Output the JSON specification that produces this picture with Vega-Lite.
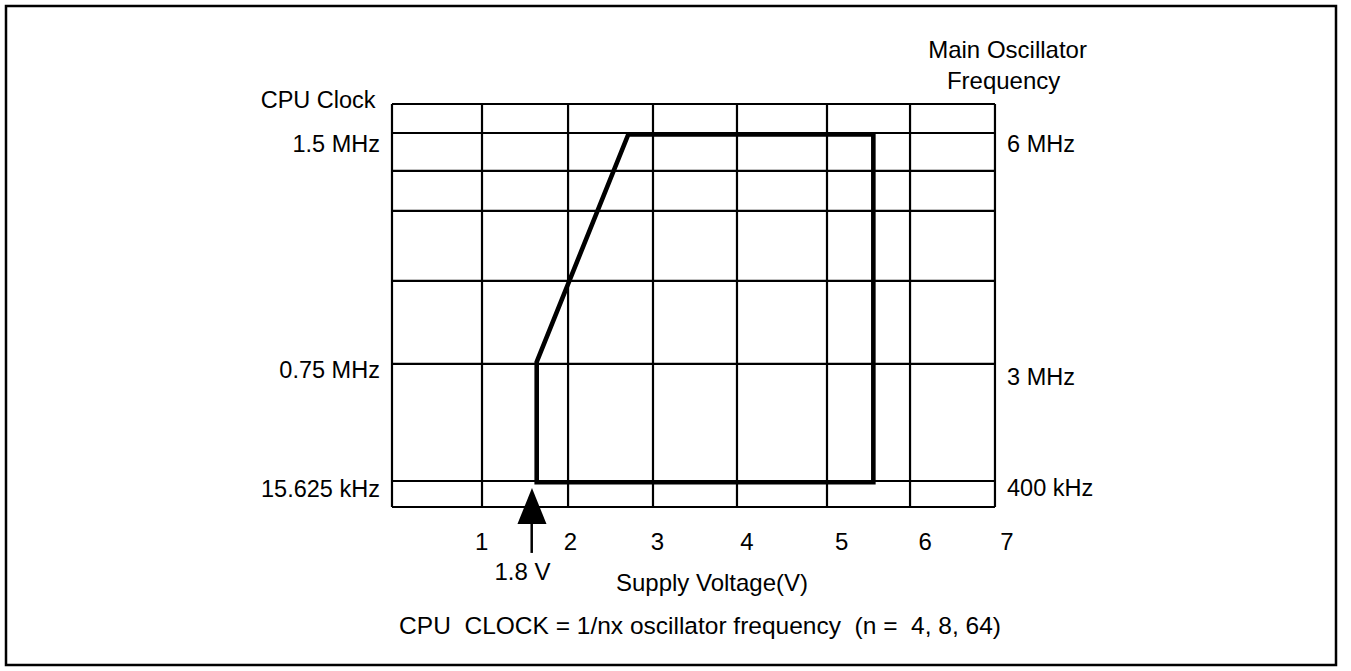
{
  "$schema": "https://vega.github.io/schema/vega-lite/v6.json",
  "width": 1330,
  "height": 659,
  "autosize": {"type": "none"},
  "padding": {"left": 6, "top": 6, "right": 15, "bottom": 6},
  "background": "white",
  "config": {
    "view": {"stroke": "black", "strokeWidth": 2.5},
    "text": {"font": "Liberation Sans", "color": "black"}
  },
  "datasets": {
    "vlines": [{"voltage": 0}, {"voltage": 1.045}, {"voltage": 2.044}, {"voltage": 3.03}, {"voltage": 4.005}, {"voltage": 5.05}, {"voltage": 6.014}, {"voltage": 7}],
    "hlines": [{"level": 0}, {"level": 6.45}, {"level": 35.5}, {"level": 56.1}, {"level": 73.5}, {"level": 83.4}, {"level": 92.8}, {"level": 100}],
    "envelope": [
      {"step": 1, "voltage": 1.68, "level": 6.15},
      {"step": 2, "voltage": 1.68, "level": 36.0},
      {"step": 3, "voltage": 2.743, "level": 92.45},
      {"step": 4, "voltage": 5.588, "level": 92.45},
      {"step": 5, "voltage": 5.588, "level": 6.15},
      {"step": 6, "voltage": 1.68, "level": 6.15}
    ],
    "arrow": [{"voltage": 1.625, "level": 0.25, "stemVoltage": 1.622, "stemTop": -3.2, "stemBottom": -11.4}],
    "leftText": [
      {"text": "CPU Clock", "voltage": -0.19, "level": 100.65},
      {"text": "1.5 MHz", "voltage": -0.14, "level": 89.95},
      {"text": "0.75 MHz", "voltage": -0.14, "level": 33.75},
      {"text": "15.625 kHz", "voltage": -0.14, "level": 4.15}
    ],
    "rightText": [
      {"text": "6 MHz", "voltage": 7.14, "level": 89.95},
      {"text": "3 MHz", "voltage": 7.14, "level": 32.05},
      {"text": "400 kHz", "voltage": 7.14, "level": 4.45}
    ],
    "centerText": [
      {"text": "Main Oscillator", "voltage": 7.146, "level": 113.15},
      {"text": "Frequency", "voltage": 7.1, "level": 105.45},
      {"text": "1", "voltage": 1.04, "level": -8.9},
      {"text": "2", "voltage": 2.07, "level": -8.9},
      {"text": "3", "voltage": 3.08, "level": -8.9},
      {"text": "4", "voltage": 4.12, "level": -8.9},
      {"text": "5", "voltage": 5.22, "level": -8.9},
      {"text": "6", "voltage": 6.19, "level": -8.9},
      {"text": "7", "voltage": 7.14, "level": -8.9},
      {"text": "1.8 V", "voltage": 1.515, "level": -16.35},
      {"text": "Supply Voltage(V)", "voltage": 3.715, "level": -19.2}
    ],
    "formula": [
      {"text": "CPU\u00a0 CLOCK = 1/nx oscillator frequency \u00a0(n = \u00a04, 8, 64)", "voltage": 3.576, "level": -29.8}
    ]
  },
  "layer": [
    {
      "data": {"name": "vlines"},
      "mark": {"type": "rule", "color": "black", "strokeWidth": 2.2},
      "encoding": {
        "x": {"field": "voltage", "type": "quantitative", "scale": {"domain": [-4.481, 10.959], "nice": false, "zero": false}, "axis": null},
        "y": {"datum": 0, "type": "quantitative", "scale": {"domain": [-39.21, 124.32], "nice": false, "zero": false}, "axis": null},
        "y2": {"datum": 100}
      }
    },
    {
      "data": {"name": "hlines"},
      "mark": {"type": "rule", "color": "black", "strokeWidth": 2.2},
      "encoding": {
        "y": {"field": "level", "type": "quantitative", "scale": {"domain": [-39.21, 124.32], "nice": false, "zero": false}, "axis": null},
        "x": {"datum": 0, "type": "quantitative", "scale": {"domain": [-4.481, 10.959], "nice": false, "zero": false}, "axis": null},
        "x2": {"datum": 7}
      }
    },
    {
      "data": {"name": "envelope"},
      "mark": {"type": "line", "color": "black", "strokeWidth": 4.6, "strokeJoin": "miter", "strokeCap": "square"},
      "encoding": {
        "x": {"field": "voltage", "type": "quantitative", "scale": {"domain": [-4.481, 10.959], "nice": false, "zero": false}, "axis": null},
        "y": {"field": "level", "type": "quantitative", "scale": {"domain": [-39.21, 124.32], "nice": false, "zero": false}, "axis": null},
        "order": {"field": "step", "type": "quantitative"}
      }
    },
    {
      "data": {"name": "arrow"},
      "mark": {"type": "point", "shape": "M0,-1L-0.806,1L0.806,1Z", "size": 1296, "filled": true, "color": "black", "opacity": 1},
      "encoding": {
        "x": {"field": "voltage", "type": "quantitative", "scale": {"domain": [-4.481, 10.959], "nice": false, "zero": false}, "axis": null},
        "y": {"field": "level", "type": "quantitative", "scale": {"domain": [-39.21, 124.32], "nice": false, "zero": false}, "axis": null}
      }
    },
    {
      "data": {"name": "arrow"},
      "mark": {"type": "rule", "color": "black", "strokeWidth": 2.5},
      "encoding": {
        "x": {"field": "stemVoltage", "type": "quantitative", "scale": {"domain": [-4.481, 10.959], "nice": false, "zero": false}, "axis": null},
        "y": {"field": "stemTop", "type": "quantitative", "scale": {"domain": [-39.21, 124.32], "nice": false, "zero": false}, "axis": null},
        "y2": {"field": "stemBottom"}
      }
    },
    {
      "data": {"name": "leftText"},
      "mark": {"type": "text", "align": "right", "baseline": "middle", "fontSize": 23.5},
      "encoding": {
        "x": {"field": "voltage", "type": "quantitative", "scale": {"domain": [-4.481, 10.959], "nice": false, "zero": false}, "axis": null},
        "y": {"field": "level", "type": "quantitative", "scale": {"domain": [-39.21, 124.32], "nice": false, "zero": false}, "axis": null},
        "text": {"field": "text"}
      }
    },
    {
      "data": {"name": "rightText"},
      "mark": {"type": "text", "align": "left", "baseline": "middle", "fontSize": 23.5},
      "encoding": {
        "x": {"field": "voltage", "type": "quantitative", "scale": {"domain": [-4.481, 10.959], "nice": false, "zero": false}, "axis": null},
        "y": {"field": "level", "type": "quantitative", "scale": {"domain": [-39.21, 124.32], "nice": false, "zero": false}, "axis": null},
        "text": {"field": "text"}
      }
    },
    {
      "data": {"name": "centerText"},
      "mark": {"type": "text", "align": "center", "baseline": "middle", "fontSize": 24},
      "encoding": {
        "x": {"field": "voltage", "type": "quantitative", "scale": {"domain": [-4.481, 10.959], "nice": false, "zero": false}, "axis": null},
        "y": {"field": "level", "type": "quantitative", "scale": {"domain": [-39.21, 124.32], "nice": false, "zero": false}, "axis": null},
        "text": {"field": "text"}
      }
    },
    {
      "data": {"name": "formula"},
      "mark": {"type": "text", "align": "center", "baseline": "middle", "fontSize": 24.5},
      "encoding": {
        "x": {"field": "voltage", "type": "quantitative", "scale": {"domain": [-4.481, 10.959], "nice": false, "zero": false}, "axis": null},
        "y": {"field": "level", "type": "quantitative", "scale": {"domain": [-39.21, 124.32], "nice": false, "zero": false}, "axis": null},
        "text": {"field": "text"}
      }
    }
  ]
}
